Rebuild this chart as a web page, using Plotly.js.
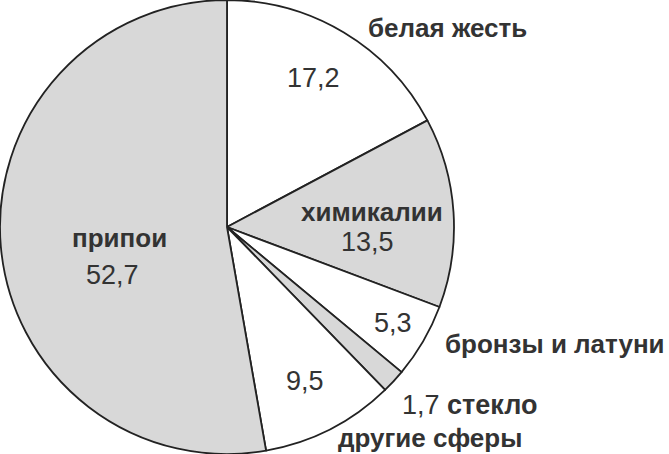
<!DOCTYPE html>
<html>
<head>
<meta charset="utf-8">
<script src="https://cdn.plot.ly/plotly-3.0.1.min.js"></script>
<style>html,body{margin:0;padding:0;background:#fff;}#chart{width:669px;height:454px;}</style>
</head>
<body>
<div id="chart"></div>
<script>
const categories = ['белая жесть', 'химикалии', 'бронзы и латуни', 'стекло', 'другие сферы', 'припои'];
const shares = [17.2, 13.5, 5.3, 1.7, 9.5, 52.7];
const valueLabels = shares.map(v => v.toFixed(1).replace('.', ','));

const W = 669, H = 454;
const sliceColors = ['#ffffff', '#d8d8d8', '#ffffff', '#d8d8d8', '#ffffff', '#d8d8d8'];

// text placement (pixel centres) for category names and values; null = inline with name
const namePos = [[447, 28], [372, 212], [555, 344], [469, 405], [430, 438], [119, 238]];
const valuePos = [[313, 78], [367, 242], [393, 323], null, [305, 381], [112, 275]];

const font = 'Liberation Sans, Arial, sans-serif';
const FS_NAME = 26, FS_VAL = 27;
const textColor = '#333';
const annotations = [];
categories.forEach((c, i) => {
  const inline = valuePos[i] === null;
  annotations.push({
    text: inline ? (valueLabels[i] + ' <b>' + c + '</b>') : ('<b>' + c + '</b>'),
    xref: 'paper', yref: 'paper',
    x: namePos[i][0] / W, y: 1 - namePos[i][1] / H,
    xanchor: 'center', yanchor: 'middle', showarrow: false,
    font: {family: font, size: inline ? FS_VAL : FS_NAME, color: textColor}
  });
  if (!inline) {
    annotations.push({
      text: valueLabels[i], xref: 'paper', yref: 'paper',
      x: valuePos[i][0] / W, y: 1 - valuePos[i][1] / H,
      xanchor: 'center', yanchor: 'middle', showarrow: false,
      font: {family: font, size: FS_VAL, color: textColor}
    });
  }
});

const trace = {
  type: 'pie',
  labels: categories,
  values: shares,
  sort: false,
  direction: 'clockwise',
  rotation: 0,
  textinfo: 'none',
  hoverinfo: 'none',
  marker: {colors: sliceColors, line: {color: '#222', width: 1.8}},
  domain: {x: [0.0, 454 / W], y: [0, 1]},
  showlegend: false
};

Plotly.newPlot('chart', [trace], {
  width: W, height: H,
  margin: {l: 0, r: 0, t: 0, b: 0},
  paper_bgcolor: '#fff',
  annotations: annotations,
  showlegend: false
}, {staticPlot: true});
</script>
</body>
</html>
